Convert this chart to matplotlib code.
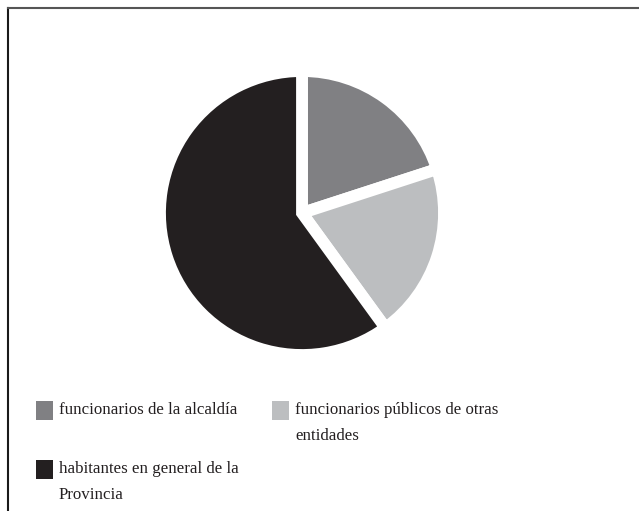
import matplotlib
matplotlib.use("Agg")
import matplotlib.pyplot as plt
from matplotlib.patches import Rectangle
from matplotlib.lines import Line2D

W, H = 639, 511

labels = ["funcionarios de la alcaldía",
          "funcionarios públicos de otras\nentidades",
          "habitantes en general de la\nProvincia"]
values = [20, 20, 60]
colors = ["#808083", "#bcbec0", "#231f20"]

# legend layout (pixels, from top-left)
legend_xy = [(36, 401), (272, 401), (36, 460)]

plt.rcParams['font.family'] = ['Liberation Serif', 'DejaVu Serif']

fig = plt.figure(figsize=(W / 100, H / 100), dpi=100)

# frame around the figure (left and top edges visible)
fig.add_artist(Line2D([8 / W, 8 / W], [0, 1 - 8 / H], transform=fig.transFigure, color="#1a1a1a", lw=1.5))
fig.add_artist(Line2D([8 / W, 1], [1 - 8 / H, 1 - 8 / H], transform=fig.transFigure, color="#555555", lw=1.5))

cx, cy, r = 302, 213, 142
ax = fig.add_axes([(cx - r) / W, (H - cy - r) / H, 2 * r / W, 2 * r / H])
ax.pie(values, colors=colors, startangle=90, counterclock=False,
       wedgeprops=dict(edgecolor="white", linewidth=8.5, joinstyle="miter"))
ax.set_xlim(-1, 1)
ax.set_ylim(-1, 1)
ax.set_aspect("equal")
ax.axis("off")

for (x, y), lab, col in zip(legend_xy, labels, colors):
    fig.add_artist(Rectangle((x / W, 1 - (y + 19) / H), 17 / W, 19 / H,
                             transform=fig.transFigure, facecolor=col, edgecolor="none"))
    fig.text((x + 23) / W, 1 - (y + 1) / H, lab, fontsize=12.2, color="#231f20",
             ha="left", va="top", linespacing=1.85)

fig.savefig("out.png", dpi=100, facecolor="white")
